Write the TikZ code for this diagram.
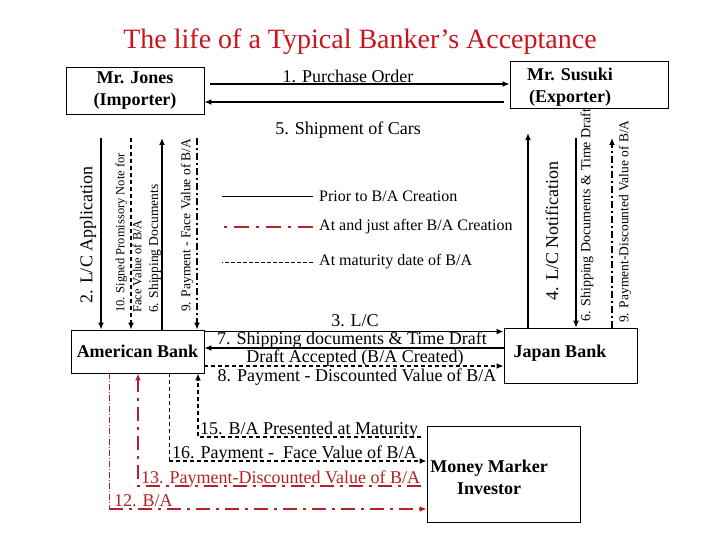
\documentclass[tikz,border=0pt]{standalone}
\usepackage{fontspec}
\setmainfont{Liberation Serif}
\usepackage{tikz}
\usetikzlibrary{arrows.meta,positioning}
\usepackage{xcolor}
\definecolor{titlered}{RGB}{200,20,28}
\definecolor{bared}{RGB}{178,34,38}
\tikzstyle{box} = [draw, line width=0.9pt, inner sep=0pt]
\tikzstyle{boxtext} = [font=\fontsize{18}{22}\selectfont\bfseries, align=center, inner sep=0pt]
\tikzstyle{lbl} = [font=\fontsize{18}{20}\selectfont, inner sep=1pt]
\tikzstyle{leg} = [font=\fontsize{16}{18}\selectfont, inner sep=1pt, anchor=west]
\tikzstyle{vlbl} = [font=\fontsize{13.5}{16}\selectfont, rotate=90, anchor=west, align=left, inner sep=0pt]
\tikzstyle{arrow} = [line width=1.6pt, -{Latex[length=7pt,width=6pt]}]
\tikzstyle{dsh} = [line width=1.5pt, dash pattern=on 4pt off 3pt]
\tikzstyle{dshdot} = [line width=1.3pt, dash pattern=on 7pt off 3pt on 2pt off 3pt]
\tikzstyle{redline} = [line width=2.4pt, color=bared, dash pattern=on 14pt off 6pt on 3pt off 6pt]

\begin{document}
\begin{tikzpicture}[x=1pt, y=-1pt]
\useasboundingbox (0,0) rectangle (720,540);
% Title
\node[font=\fontsize{28}{32}\selectfont, text=titlered] (title) at (360,42) {The life of a Typical Banker’s Acceptance};

% Importer and exporter
\node[box, boxtext, minimum width=138pt, minimum height=47pt] (jones) at (135,90.5) {Mr. Jones\\(Importer)};
\node[box, minimum width=158pt, minimum height=47pt] (susuki) at (589,84.5) {};
\node[boxtext] (susukitxt) at (570,87) {Mr. Susuki\\(Exporter)};

% Banks and investor
\node[box, boxtext, minimum width=133pt, minimum height=43pt] (amb) at (137.5,351.5) {American Bank};
\node[box, minimum width=133pt, minimum height=55pt] (jpb) at (570.5,355.5) {};
\node[boxtext] (jpbtxt) at (560,353) {Japan Bank};
\node[box, minimum width=153pt, minimum height=96pt] (mmi) at (503.5,474) {};
\node[boxtext] (mmitxt) at (489,477) {Money Marker\\Investor};

% Purchase order and shipment
\coordinate (po) at (210,84);
\draw[arrow] (po) -- (po -| susuki.west);
\node[lbl] (potxt) at (348,76) {1. Purchase Order};
\coordinate (sc) at (504,102);
\draw[arrow] (sc) -- (sc -| jones.east);
\node[lbl] (sctxt) at (348,130) {5. Shipment of Cars};

% Legend
\node[leg] (lg1) at (318,196) {Prior to B/A Creation};
\node[leg] (lg2) at (318,227) {At and just after B/A Creation};
\node[leg] (lg3) at (318,262) {At maturity date of B/A};
\draw[line width=0.8pt] ([xshift=-5pt]lg1.west) -- ++(-91,0);
\draw[redline, line width=2.8pt, dash pattern=on 15pt off 7pt on 3pt off 7pt] ([xshift=-5pt]lg2.west) -- ++(-91,0);
\draw[line width=0.8pt, dash pattern=on 4pt off 2pt] ([xshift=-5pt]lg3.west) -- ++(-91,0);

% Importer side
\coordinate (la) at (101,138);
\draw[arrow] (la) -- (la |- amb.north);
\node[lbl, rotate=90] (latxt) at (88,235) {2. L/C Application};
\coordinate (lb) at (131,138);
\draw[arrow, dsh] (lb) -- (lb |- amb.north);
\node[vlbl, font=\fontsize{12.5}{17}\selectfont] (lbtxt) at (128.5,313) {10. Signed Promissory Note for\\Face Value of B/A};
\coordinate (lc) at (162,138);
\draw[arrow] (lc |- amb.north) -- (lc);
\node[vlbl] (lctxt) at (155,313) {6. Shipping Documents};
\coordinate (ld) at (197,138);
\draw[arrow, dshdot] (ld) -- (ld |- amb.north);
\node[vlbl] (ldtxt) at (187,312) {9. Payment - Face Value of B/A};

% Exporter side
\coordinate (ra) at (528,133);
\draw[arrow] (ra |- jpb.north) -- (ra);
\node[lbl, rotate=90] (ratxt) at (552,231) {4. L/C Notification};
\coordinate (rb) at (576,138);
\draw[arrow] (rb) -- (rb |- jpb.north);
\node[vlbl, font=\fontsize{14}{16}\selectfont] (rbtxt) at (587,322) {6. Shipping Documents \& Time Draft};
\coordinate (rc) at (612,138);
\draw[arrow, dshdot] (rc |- jpb.north) -- (rc);
\node[vlbl] (rctxt) at (625,323) {9. Payment-Discounted Value of B/A};

% Between the banks
\coordinate (m3) at ([yshift=-2pt]amb.north east);
\draw[arrow] (m3) -- (m3 -| jpb.west);
\node[lbl] (m3txt) at (355,321) {3. L/C};
\coordinate (m7) at ([yshift=3.5pt]amb.east);
\draw[arrow] (m7 -| jpb.west) -- (m7);
\node[lbl] (m7txt) at (352,340) {7. Shipping documents \& Time Draft};
\node[lbl] (m7btxt) at (355,358) {Draft Accepted (B/A Created)};
\coordinate (m8) at ([yshift=-14.5pt]amb.east);
\draw[arrow, dsh] (m8) -- (m8 -| jpb.west);
\node[lbl] (m8txt) at (357,377) {8. Payment - Discounted Value of B/A};

% At maturity
\coordinate (b15) at (198,437);
\coordinate (e15) at (421,437);
\draw[arrow, dsh] (e15) -- (b15) -- (b15 |- amb.south);
\node[lbl, anchor=base west] (t15) at (199,434) {15. B/A Presented at Maturity};
\coordinate (b16) at (169,461);
\draw[dsh, line width=0.9pt] (b16 |- amb.south) -- (b16);
\draw[arrow, dsh] (b16) -- (b16 -| mmi.west);
\node[lbl, anchor=base west] (t16) at (171,458) {16. Payment - \ Face Value of B/A};

% Sale of the B/A
\coordinate (b13) at (138,486);
\coordinate (e13) at (421,486);
\draw[arrow, redline] (e13) -- (b13) -- (b13 |- amb.south);
\node[lbl, anchor=base west, text=bared] (t13) at (140,483) {13. Payment-Discounted Value of B/A};
\coordinate (b12) at (109,509);
\draw[bared, line width=0.9pt, dash pattern=on 6pt off 2pt on 1pt off 2pt] (b12 |- amb.south) -- (b12);
\draw[arrow, redline] (b12) -- (b12 -| mmi.west);
\node[lbl, anchor=base west, text=bared] (t12) at (113,506) {12. B/A};
\end{tikzpicture}
\end{document}
